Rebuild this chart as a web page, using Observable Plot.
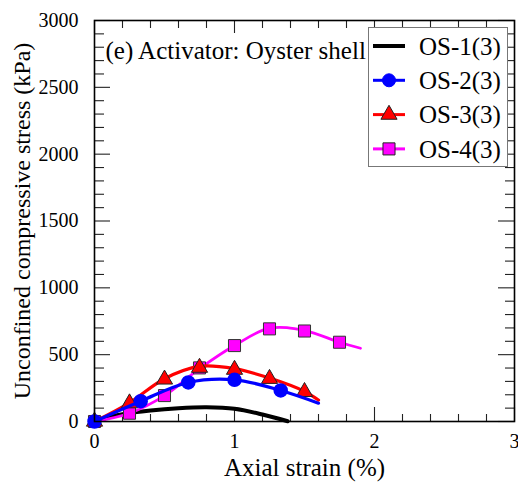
<!DOCTYPE html>
<html>
<head>
<meta charset="utf-8">
<script src="https://cdn.jsdelivr.net/npm/d3@7"></script>
<script src="https://cdn.jsdelivr.net/npm/@observablehq/plot@0.6"></script>
</head>
<body style="margin:0;background:white">
<div id="wrap" style="position:relative;width:518px;height:485px;font-family:'Liberation Serif'"></div>
<script>
// ---- data ----
const seriesNames = ["OS-1(3)", "OS-2(3)", "OS-3(3)", "OS-4(3)"];
const seriesColors = ["#000000", "#0000ff", "#ff0000", "#ff00ff"];
const seriesSymbols = [null, "circle", "triangle", "square"];

// OS-1: line only
const os1LineStrain = [0, 0.1, 0.2, 0.4, 0.6, 0.8, 1.0, 1.2, 1.38];
const os1LineStress = [0, 32, 55, 82, 99, 106, 95, 52, 2];

// OS-2
const os2Strain = [0, 0.33, 0.67, 1.0, 1.33];
const os2Stress = [0, 152, 292, 312, 232];
const os2LineStrain = [0, 0.33, 0.67, 1.0, 1.33, 1.6];
const os2LineStress = [0, 152, 292, 312, 232, 137];

// OS-3
const os3Strain = [0, 0.25, 0.5, 0.75, 1.0, 1.25, 1.5];
const os3Stress = [0, 137, 315, 403, 388, 320, 222];
const os3LineStrain = [0, 0.25, 0.5, 0.75, 1.0, 1.25, 1.5, 1.6];
const os3LineStress = [0, 140, 320, 412, 395, 325, 225, 160];

// OS-4
const os4Strain = [0, 0.25, 0.5, 0.75, 1.0, 1.25, 1.5, 1.75];
const os4Stress = [0, 62, 194, 401, 568, 693, 677, 593];
const os4LineStrain = [0, 0.25, 0.5, 0.75, 1.0, 1.25, 1.5, 1.75, 1.9];
const os4LineStress = [0, 62, 194, 395, 568, 698, 680, 593, 548];

const xTickLabels = [0, 1, 2, 3];
const yTickLabels = [0, 500, 1000, 1500, 2000, 2500, 3000];
const annotation = "(e) Activator: Oyster shell";
const xLabel = "Axial strain (%)";
const yLabel = "Unconfined compressive stress (kPa)";

// ---- build tables ----
const pts = (xs, ys) => xs.map((x, i) => ({x, y: ys[i]}));
const os1Line = pts(os1LineStrain, os1LineStress);
const os2Line = pts(os2LineStrain, os2LineStress), os2Pts = pts(os2Strain, os2Stress);
const os3Line = pts(os3LineStrain, os3LineStress), os3Pts = pts(os3Strain, os3Stress);
const os4Line = pts(os4LineStrain, os4LineStress), os4Pts = pts(os4Strain, os4Stress);

const xMinor = d3.range(0.2, 3, 0.2).filter(v => Math.abs(v - Math.round(v)) > 1e-6);
const yMinor = d3.range(100, 3000, 100).filter(v => v % 500 !== 0);

const W = 518, H = 485, mT = 20, mB = 64, mL = 94, mR = 4;
const fh = H - mT - mB, fw = W - mL - mR;
const font = "Liberation Serif";
const tickStroke = {stroke: "#222", strokeWidth: 1.1};

const chart = Plot.plot({
  width: W, height: H,
  marginTop: mT, marginBottom: mB, marginLeft: mL, marginRight: mR,
  style: {fontFamily: font, fontSize: "20px"},
  x: {domain: [0, 3]},
  y: {domain: [0, 3000]},
  marks: [
    // inward ticks
    Plot.tickX(xMinor, {x: d => d, insetTop: fh - 7, ...tickStroke}),
    Plot.tickX(xMinor, {x: d => d, insetBottom: fh - 8, ...tickStroke}),
    Plot.tickX(xTickLabels, {x: d => d, insetTop: fh - 14, ...tickStroke}),
    Plot.tickX(xTickLabels, {x: d => d, insetBottom: fh - 13, ...tickStroke}),
    Plot.tickY(yMinor, {y: d => d, insetRight: fw - 10, ...tickStroke}),
    Plot.tickY(yMinor, {y: d => d, insetLeft: fw - 9, ...tickStroke}),
    Plot.tickY(yTickLabels, {y: d => d, insetRight: fw - 16, ...tickStroke}),
    Plot.tickY(yTickLabels, {y: d => d, insetLeft: fw - 16, ...tickStroke}),
    Plot.axisX(xTickLabels, {tickSize: 0, tickPadding: 12, label: null, fontSize: 20, tickFormat: d => String(d)}),
    Plot.axisY(yTickLabels, {tickSize: 0, tickPadding: 16, label: null, fontSize: 20, tickFormat: d => String(d)}),
    // series
    Plot.line(os1Line, {x: "x", y: "y", stroke: seriesColors[0], strokeWidth: 4, curve: "catmull-rom"}),
    Plot.line(os4Line, {x: "x", y: "y", stroke: seriesColors[3], strokeWidth: 2.8, curve: "catmull-rom"}),
    Plot.dot(os4Pts, {x: "x", y: "y", symbol: "square", r: 6.8, fill: seriesColors[3], stroke: "#333", strokeWidth: 1}),
    Plot.line(os3Line, {x: "x", y: "y", stroke: seriesColors[2], strokeWidth: 3.2, curve: "catmull-rom"}),
    Plot.dot(os3Pts, {x: "x", y: "y", symbol: "triangle", r: 6, fill: seriesColors[2], stroke: "#222", strokeWidth: 1}),
    Plot.line(os2Line, {x: "x", y: "y", stroke: seriesColors[1], strokeWidth: 3.2, curve: "catmull-rom"}),
    Plot.dot(os2Pts, {x: "x", y: "y", symbol: "circle", r: 6.5, fill: seriesColors[1], stroke: seriesColors[1]}),
    Plot.frame({stroke: "black", strokeWidth: 1.6}),
    // texts
    Plot.text([annotation], {text: d => d, frameAnchor: "top-left", dx: 11, dy: 30, lineAnchor: "middle", textAnchor: "start", fontSize: 25}),
    Plot.text([xLabel], {text: d => d, frameAnchor: "bottom", dy: 46, lineAnchor: "middle", textAnchor: "middle", fontSize: 25}),
    Plot.text([yLabel], {text: d => d, frameAnchor: "left", dx: -72, rotate: -90, lineAnchor: "middle", textAnchor: "middle", fontSize: 24})
  ]
});

const wrap = document.getElementById("wrap");
wrap.appendChild(chart);

// ---- legend ----
const legend = d3.select(wrap).append("div")
  .style("position", "absolute").style("left", "368px").style("top", "27px")
  .style("width", "140px").style("height", "140px").style("box-sizing", "border-box")
  .style("border", "1px solid #777").style("background", "white");
const lsvg = legend.append("svg").attr("width", 138).attr("height", 138).style("display", "block");
seriesNames.forEach((name, i) => {
  const cy = 18 + i * 34.3;
  const g = lsvg.append("g");
  g.append("line").attr("x1", 4).attr("x2", 36).attr("y1", cy).attr("y2", cy)
    .attr("stroke", seriesColors[i]).attr("stroke-width", i === 0 ? 4 : 3);
  if (seriesSymbols[i]) {
    const sym = {circle: d3.symbolCircle, triangle: d3.symbolTriangle, square: d3.symbolSquare}[seriesSymbols[i]];
    const size = seriesSymbols[i] === "circle" ? Math.PI * 6.5 * 6.5 : seriesSymbols[i] === "triangle" ? Math.PI * 36 : Math.PI * 6.8 * 6.8;
    g.append("path").attr("d", d3.symbol(sym, size)()).attr("transform", `translate(20,${cy})`)
      .attr("fill", seriesColors[i])
      .attr("stroke", seriesSymbols[i] === "circle" ? seriesColors[i] : "#222").attr("stroke-width", 1);
  }
  g.append("text").attr("x", 50).attr("y", cy).attr("dy", "0.35em")
    .attr("font-family", font).attr("font-size", 25).attr("fill", "black").text(name);
});
</script>
</body>
</html>
